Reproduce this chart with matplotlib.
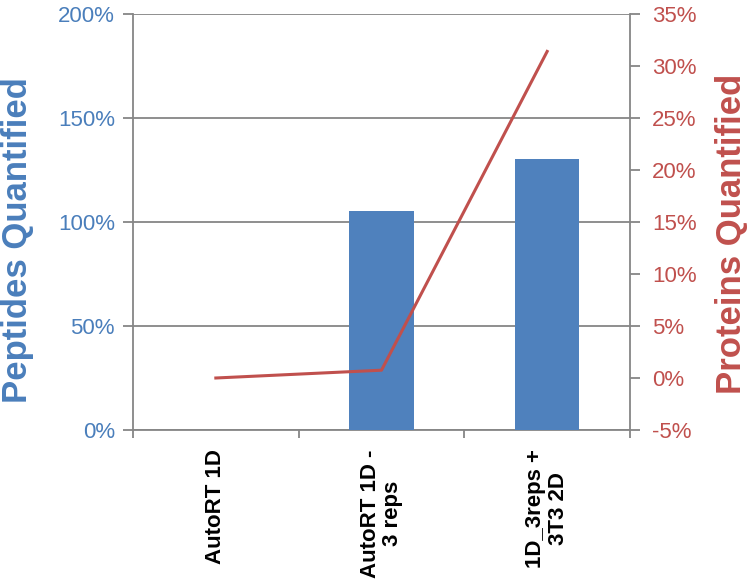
import matplotlib
matplotlib.use("Agg")
import matplotlib.pyplot as plt
from matplotlib.ticker import FuncFormatter, FixedLocator

categories = ["AutoRT 1D", "AutoRT 1D -\n3 reps", "1D_3reps +\n3T3 2D"]
peptides = [0, 105.3, 130.1]
proteins = [0.0, 0.75, 31.4]
left_ticks = [0, 50, 100, 150, 200]
right_ticks = [-5, 0, 5, 10, 15, 20, 25, 30, 35]

blue = "#4F81BD"
label_blue = "#4A7EBB"
red = "#C0504D"
gray = "#868686"

plt.rcParams['font.family'] = ['Liberation Sans', 'DejaVu Sans']

fig = plt.figure(figsize=(7.5, 5.84), dpi=100)
ax = fig.add_axes([133/750, 1 - 430/584, (630-133)/750, (430-14)/584])
x = list(range(len(categories)))
ax.bar(x, peptides, width=0.39, color=blue, zorder=3)
ax.set_xlim(-0.5, 2.5)
ax.set_ylim(0, 200)
ax.set_yticks(left_ticks)
ax.yaxis.set_major_formatter(FuncFormatter(lambda v, p: f"{int(v)}%"))
ax.grid(axis='y', color=gray, linewidth=1.3, zorder=0)
ax.tick_params(axis='y', colors=gray, labelcolor=label_blue, labelsize=16,
               length=7, width=1.3, pad=6)
ax.set_xticks(x)
ax.set_xticklabels(categories, rotation=90, fontsize=16, fontweight='bold',
                   va='top', ha='center', multialignment='center', linespacing=1.1)
ax.tick_params(axis='x', length=0, pad=14)
ax.xaxis.set_minor_locator(FixedLocator([-0.5, 0.5, 1.5, 2.5]))
ax.tick_params(axis='x', which='minor', length=6, width=1.3, color=gray)
for s in ['top', 'right']:
    ax.spines[s].set_visible(False)
for s in ['left', 'bottom']:
    ax.spines[s].set_color(gray)
    ax.spines[s].set_linewidth(1.3)
ax.set_ylabel("Peptides Quantified", fontsize=25, fontweight='bold', color=label_blue)
ax.yaxis.set_label_coords(-(133 - 34) / 497, (430 - 240) / 416)

ax2 = ax.twinx()
ax2.plot(x, proteins, color=red, linewidth=2.2, zorder=4)
ax2.set_ylim(-5, 35)
ax2.set_yticks(right_ticks)
ax2.yaxis.set_major_formatter(FuncFormatter(lambda v, p: f"{int(v)}%"))
ax2.tick_params(axis='y', colors=gray, labelcolor=red, labelsize=16,
                length=7, width=1.3, pad=9)
for s in ['top', 'left', 'bottom']:
    ax2.spines[s].set_visible(False)
ax2.spines['right'].set_color(gray)
ax2.spines['right'].set_linewidth(1.3)
ax2.set_ylabel("Proteins Quantified", fontsize=25, fontweight='bold', color=red,
               rotation=90)
ax2.yaxis.set_label_coords((715 - 133) / 497, (430 - 234) / 416)

fig.savefig("out.png", dpi=100)
